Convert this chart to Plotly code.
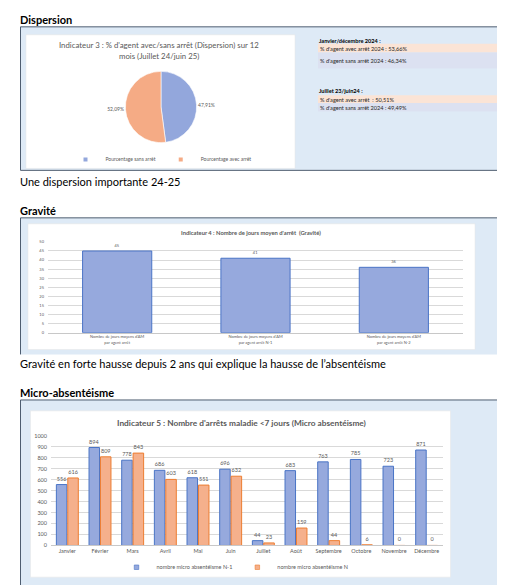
import plotly.graph_objects as go

W, H = 505, 585
def X(p): return p / W
def Y(p): return 1 - p / H

# ---------------- Data ----------------
pie_labels = ["Pourcentage sans arrêt", "Pourcentage avec arrêt"]
pie_values = [47.91, 52.09]

disp_2024_title = "Janvier/décembre 2024 :"
disp_2024_rows = ["% d'agent avec arrêt 2024 : 53,66%", "% d'agent sans arrêt 2024 : 46,34%"]
disp_2324_title = "Juillet 23/juin24 :"
disp_2324_rows = ["% d'agent avec arrêt  : 50,51%", "% d'agent sans arrêt 2024 : 49,49%"]

grav_categories = [
    "Nombre de jours moyens d'AM<br>par agent arrêt",
    "Nombre de jours moyens d'AM<br>par agent arrêt N-1",
    "Nombre de jours moyens d'AM<br>par agent arrêt N-2",
]
grav_values = [45, 41, 36]

months = ["Janvier", "Février", "Mars", "Avril", "Mai", "Juin", "Juillet",
          "Août", "Septembre", "Octobre", "Novembre", "Décembre"]
micro_n1 = [556, 894, 778, 686, 618, 696, 44, 683, 763, 785, 723, 871]
micro_n = [616, 809, 843, 603, 551, 632, 23, 159, 44, 6, 0, 0]
micro_names = ["nombre micro absentéisme N-1", "nombre micro absentéisme N"]

# ---------------- Styles ----------------
FONT = "Lato, Open Sans, sans-serif"
BOX_FILL = "#deeaf6"
BOX_LINE = "#4e5d70"
BLUE_FILL = "#96a9dd"
BLUE_LINE = "#4a74c6"
ORANGE_FILL = "#f5b08c"
ORANGE_LINE = "#ed7d31"
PIE_COLORS = ["#93a7dc", "#f5ab85"]
GREY_TXT = "#595959"
GRID = "#d9d9d9"

fig = go.Figure()

# Pie (Dispersion)
fig.add_trace(go.Pie(
    labels=pie_labels, values=pie_values, sort=False, direction="clockwise",
    rotation=0,
    marker=dict(colors=PIE_COLORS, line=dict(color="#ffffff", width=0.6)),
    texttemplate="%{percent:.2%}", textposition="outside",
    textfont=dict(size=5, color=GREY_TXT, family=FONT),
    domain=dict(x=[X(117), X(189)], y=[Y(133), Y(61)]),
    showlegend=False, hoverinfo="label+percent",
))

# Bar chart (Gravité)
fig.add_trace(go.Bar(
    x=grav_categories, y=grav_values, width=0.5,
    marker=dict(color=BLUE_FILL, line=dict(color=BLUE_LINE, width=1)),
    text=grav_values, textposition="outside", cliponaxis=False,
    textfont=dict(size=4, color=GREY_TXT, family=FONT),
    xaxis="x", yaxis="y", showlegend=False,
))

# small-square legend entries for the pie
for lab, col in zip(pie_labels, PIE_COLORS):
    fig.add_trace(go.Scatter(
        x=[None], y=[None], mode="markers", name=lab,
        marker=dict(symbol="square", size=4, color=col, line=dict(width=0)),
        xaxis="x", yaxis="y", legend="legend", hoverinfo="skip",
    ))

# Grouped bar chart (Micro-absentéisme)
for vals, name, fill, line in [(micro_n1, micro_names[0], BLUE_FILL, BLUE_LINE),
                               (micro_n, micro_names[1], ORANGE_FILL, ORANGE_LINE)]:
    fig.add_trace(go.Bar(
        x=months, y=vals, name=name,
        marker=dict(color=fill, line=dict(color=line, width=1)),
        text=vals, textposition="outside", cliponaxis=False,
        textfont=dict(size=5.5, color=GREY_TXT, family=FONT),
        xaxis="x2", yaxis="y2", showlegend=False,
    ))
for name, fill, line in [(micro_names[0], BLUE_FILL, BLUE_LINE),
                         (micro_names[1], ORANGE_FILL, ORANGE_LINE)]:
    fig.add_trace(go.Scatter(
        x=[None], y=[None], mode="markers", name=name,
        marker=dict(symbol="square", size=4.5, color=fill, line=dict(color=line, width=0.6)),
        xaxis="x2", yaxis="y2", legend="legend2", hoverinfo="skip",
    ))

shapes = []
def rect(x0, y0, x1, y1, fill, line=None, lw=0):
    shapes.append(dict(type="rect", xref="paper", yref="paper",
                       x0=X(x0), x1=X(x1), y0=Y(y1), y1=Y(y0),
                       fillcolor=fill, layer="below",
                       line=dict(color=line or fill, width=lw)))

def hline(x0, x1, y, color, lw=1):
    shapes.append(dict(type="line", xref="paper", yref="paper",
                       x0=X(x0), x1=X(x1), y0=Y(y), y1=Y(y), layer="below",
                       line=dict(color=color, width=lw)))

def vline(x, y0, y1, color, lw=1):
    shapes.append(dict(type="line", xref="paper", yref="paper",
                       x0=X(x), x1=X(x), y0=Y(y0), y1=Y(y1), layer="below",
                       line=dict(color=color, width=lw)))

# Section 1 box
rect(12.5, 16, 500, 161, BOX_FILL, BOX_LINE, 1)
rect(18, 24, 287, 159, "#ffffff", "#e4e4e4", 0.5)
rect(310, 33, 499, 42, "#fbe4d6")
rect(310, 42, 499, 58, "#dce1f1")
rect(310, 85, 499, 93, "#fbe4d6")
rect(310, 93, 499, 101.5, "#dce1f1")

# Section 2 box (open right / bottom)
rect(12.5, 209, 505, 347, BOX_FILL)
hline(12.5, 499.5, 209, BOX_LINE, 1)
vline(12.5, 209, 347, BOX_LINE, 1)
rect(20, 215, 467, 342, "#ffffff", "#e4e4e4", 0.5)

# Section 3 box
rect(12.5, 393, 500, 580.5, BOX_FILL, BOX_LINE, 1)
rect(22.5, 404, 442.5, 572, "#ffffff", "#e4e4e4", 0.5)

annotations = []
def text(x, y, s, size, color="#000000", bold=False, anchor="left"):
    annotations.append(dict(x=X(x), y=Y(y), xref="paper", yref="paper",
                            text=("<b>%s</b>" % s) if bold else s,
                            showarrow=False, xanchor=anchor, yanchor="middle",
                            borderpad=0,
                            font=dict(size=size, color=color, family=FONT)))

text(11, 9, "Dispersion", 11, bold=True)
text(151, 34, "Indicateur 3 : % d'agent avec/sans arrêt (Dispersion) sur 12", 7.8, GREY_TXT, anchor="center")
text(151, 45.5, "mois (Juillet 24/juin 25)", 7.8, GREY_TXT, anchor="center")
text(310, 29.5, disp_2024_title, 5.6, bold=True)
text(311, 37.5, disp_2024_rows[0], 5.6, "#262626")
text(311, 50.5, disp_2024_rows[1], 5.6, "#262626")
text(310, 80.5, disp_2324_title, 5.6, bold=True)
text(311, 89, disp_2324_rows[0], 5.6, "#262626")
text(311, 97.5, disp_2324_rows[1], 5.6, "#262626")
text(11, 172, "Une dispersion importante 24-25", 11)

text(11, 202, "Gravité", 11, bold=True)
text(243, 224, "Indicateur 4 : Nombre de jours moyen d'arrêt  (Gravité)", 5.8, GREY_TXT, bold=True, anchor="center")
text(11, 356.5, "Gravité en forte hausse depuis 2 ans qui explique la hausse de l’absentéisme", 11)

text(11, 385, "Micro-absentéisme", 11, bold=True)
text(233, 416, "Indicateur 5 : Nombre d'arrêts maladie <7 jours (Micro absentéisme)", 8.3, GREY_TXT, bold=True, anchor="center")

fig.update_layout(
    width=W, height=H, autosize=False,
    margin=dict(l=0, r=0, t=0, b=0),
    paper_bgcolor="#ffffff", plot_bgcolor="rgba(0,0,0,0)",
    separators=", ",
    font=dict(family=FONT, color=GREY_TXT),
    barmode="group", bargap=0.3, bargroupgap=0.08,
    shapes=shapes, annotations=annotations,
    xaxis=dict(type="category", categoryorder="array", categoryarray=grav_categories,
               domain=[X(40), X(455)], anchor="y", showgrid=False,
               tickfont=dict(size=4, color=GREY_TXT), showline=True,
               linecolor="#c8c8c8", linewidth=1, ticks="", fixedrange=True),
    yaxis=dict(domain=[Y(325), Y(233.3)], anchor="x", range=[0, 50], dtick=5,
               showgrid=True, gridcolor=GRID, gridwidth=1, zeroline=False,
               tickfont=dict(size=4, color=GREY_TXT), ticklabelstandoff=3,
               showline=False, ticks="", fixedrange=True),
    xaxis2=dict(type="category", categoryorder="array", categoryarray=months,
                domain=[X(43), X(435)], anchor="y2", showgrid=False,
                tickfont=dict(size=5.5, color=GREY_TXT), showline=True,
                linecolor="#c8c8c8", linewidth=1, ticks="", fixedrange=True),
    yaxis2=dict(domain=[Y(540), Y(429.3)], anchor="x2", range=[0, 1000], dtick=100,
                showgrid=True, gridcolor=GRID, gridwidth=1, zeroline=False,
                tickfont=dict(size=5.5, color=GREY_TXT), ticklabelstandoff=3,
                showline=False, ticks="", fixedrange=True),
    legend=dict(orientation="h", x=X(153), xanchor="center", y=Y(150), yanchor="middle",
                font=dict(size=5, color=GREY_TXT), bgcolor="rgba(0,0,0,0)",
                itemwidth=30, tracegroupgap=0),
    legend2=dict(orientation="h", x=X(227), xanchor="center", y=Y(562), yanchor="middle",
                 font=dict(size=5.5, color=GREY_TXT), bgcolor="rgba(0,0,0,0)",
                 itemwidth=30),
)

fig.write_html("out.html")
